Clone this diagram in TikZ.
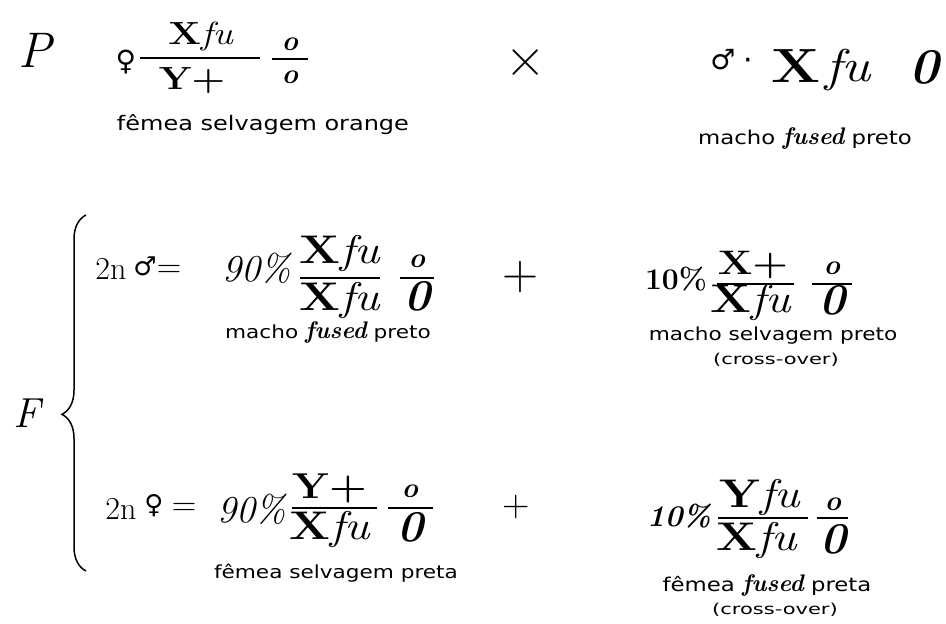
\documentclass[tikz,border=0pt]{standalone}
\usepackage{fontspec}
\newfontfamily\symf{DejaVu Sans}
\newfontfamily\hand{DejaVu Sans}[FakeStretch=1.2]
\newfontfamily\handw{DejaVu Sans}[FakeStretch=1.4]
\newfontfamily\gene{Latin Modern Roman}[FakeStretch=1.2]
\usetikzlibrary{decorations.pathreplacing}
\newcommand{\fsz}[1]{\fontsize{#1}{#1}\selectfont}
\newcommand{\fu}{{\rmfamily\bfseries\itshape\fsz{24}fused}}
\newcommand{\gX}{\textbf{X}}
\begin{document}
\begin{tikzpicture}[x=1pt,y=-1pt,
  every node/.style={inner sep=0pt,anchor=center},
  gen/.style={font=\gene\fsz{40}},
  gtop/.style={font=\gene\fsz{32}},
  small/.style={font=\fsz{28}\bfseries\itshape},
  zero/.style={font=\fsz{44}\bfseries\itshape},
  sym/.style={font=\symf\fsz{26}},
  lab/.style={font=\hand\fsz{18}},
  lab2/.style={font=\handw\fsz{15}},
  bar/.style={line width=1.6pt}]
\useasboundingbox (0,0) rectangle (946,624);

% ---------- P generation ----------
\node[font=\itshape\fsz{50}] (P) at (35,50) {P};
\node[sym,font=\symf\fsz{28}] (fem0) at (126,62) {♀};
\node[gtop] (n1) at (201,36) {\gX\textit{fu}};
\node[gtop] (d1) at (192,81) {\textbf{Y+}};
\coordinate (b1l) at (140,58); \coordinate (b1r) at (260,58);
\draw[bar] (b1l) -- (b1r);
\node[small] (n2) at (290,44) {o};
\node[small] (d2) at (290,77) {o};
\coordinate (b2l) at (272,59); \coordinate (b2r) at (308,59);
\draw[bar] (b2l) -- (b2r);
\node[lab,font=\hand\fsz{20}] (l1) at (263,125) {fêmea selvagem orange};

\node[font=\rmfamily\fsz{56}] (cross) at (526,63) {×};

\node[sym,font=\symf\fsz{28}] (mal0) at (723,60) {♂};
\node[font=\symf\fsz{30}] (dot0) at (748,64) {·};
\node[font=\gene\fsz{48}\bfseries] (X0) at (796,66) {X};
\node[font=\gene\fsz{46}\itshape] (fu0) at (848,70) {fu};
\node[font=\fsz{50}\bfseries\itshape] (z0) at (924,67) {0};
\node[lab,font=\hand\fsz{19}] (l2) at (805,138) {macho \fu{} preto};

% ---------- F generation ----------
\node[font=\itshape\fsz{42}] (F) at (27,413) {F};
\coordinate (brb) at (86,571); \coordinate (brt) at (86,215);
\draw[line width=1.5pt,decorate,decoration={brace,amplitude=24pt,aspect=0.44}] (brb) -- (brt);

% row 1
\node[font=\fsz{32}] (r1a) at (111,269) {2n};
\node[sym] (r1s) at (145,266) {♂};
\node[font=\fsz{34}] (r1e) at (169,271) {=};
\node[font=\fsz{38}\itshape] (r1p) at (257,268) {90\%};
\node[gen] (r1n) at (340,253) {\gX\textit{fu}};
\node[gen] (r1d) at (340,300) {\gX\textit{fu}};
\coordinate (r1bl) at (300,278); \coordinate (r1br) at (380,278);
\draw[bar] (r1bl) -- (r1br);
\node[small] (r1on) at (417,261) {o};
\node[zero] (r1od) at (417,296) {0};
\coordinate (r1cl) at (400,278); \coordinate (r1cr) at (434,278);
\draw[bar] (r1cl) -- (r1cr);
\node[lab] (l3) at (328,332) {macho \fu{} preto};

\node[font=\fsz{50}] (plus1) at (520,277) {+};
\node[font=\fsz{30}\bfseries] (r1q) at (676,279) {10\%};
\node[gen,font=\gene\fsz{34}] (r1xn) at (753,265) {\textbf{X+}};
\node[gen] (r1xd) at (751,302) {\gX\textit{fu}};
\coordinate (r1xl) at (717,284); \coordinate (r1xr) at (794,284);
\draw[bar] (r1xl) -- (r1xr);
\node[small] (r1qn) at (832,268) {o};
\node[zero] (r1qd) at (832,300) {0};
\coordinate (r1ql) at (812,284); \coordinate (r1qr) at (852,284);
\draw[bar] (r1ql) -- (r1qr);
\node[lab] (l4) at (773,336) {macho selvagem preto};
\node[lab2] (l5) at (776,360) {(cross-over)};

% row 2
\node[font=\fsz{32}] (r2a) at (121,509) {2n};
\node[sym] (r2s) at (154,506) {♀};
\node[font=\fsz{34}] (r2e) at (184,509) {=};
\node[font=\fsz{38}\itshape] (r2p) at (252,509) {90\%};
\node[gen,font=\gene\fsz{36}] (r2n) at (330,488) {\textbf{Y+}};
\node[gen] (r2d) at (330,529) {\gX\textit{fu}};
\coordinate (r2bl) at (292,508); \coordinate (r2br) at (377,508);
\draw[bar] (r2bl) -- (r2br);
\node[small] (r2on) at (410,491) {o};
\node[zero] (r2od) at (410,527) {0};
\coordinate (r2cl) at (388,508); \coordinate (r2cr) at (433,508);
\draw[bar] (r2cl) -- (r2cr);
\node[lab] (l6) at (336,573) {fêmea selvagem preta};

\node[font=\fsz{38}] (plus2) at (516,507) {+};
\node[font=\fsz{30}\bfseries\itshape] (r2q) at (679,516) {10\%};
\node[gen] (r2xn) at (760,497) {\textbf{Y}\textit{fu}};
\node[gen] (r2xd) at (757,540) {\gX\textit{fu}};
\coordinate (r2xl) at (718,518); \coordinate (r2xr) at (808,518);
\draw[bar] (r2xl) -- (r2xr);
\node[small] (r2qn) at (833,504) {o};
\node[zero] (r2qd) at (833,539) {0};
\coordinate (r2ql) at (817,518); \coordinate (r2qr) at (848,518);
\draw[bar] (r2ql) -- (r2qr);
\node[lab,font=\hand\fsz{19}] (l7) at (767,585) {fêmea \fu{} preta};
\node[lab2] (l8) at (775,610) {(cross-over)};
\end{tikzpicture}
\end{document}
